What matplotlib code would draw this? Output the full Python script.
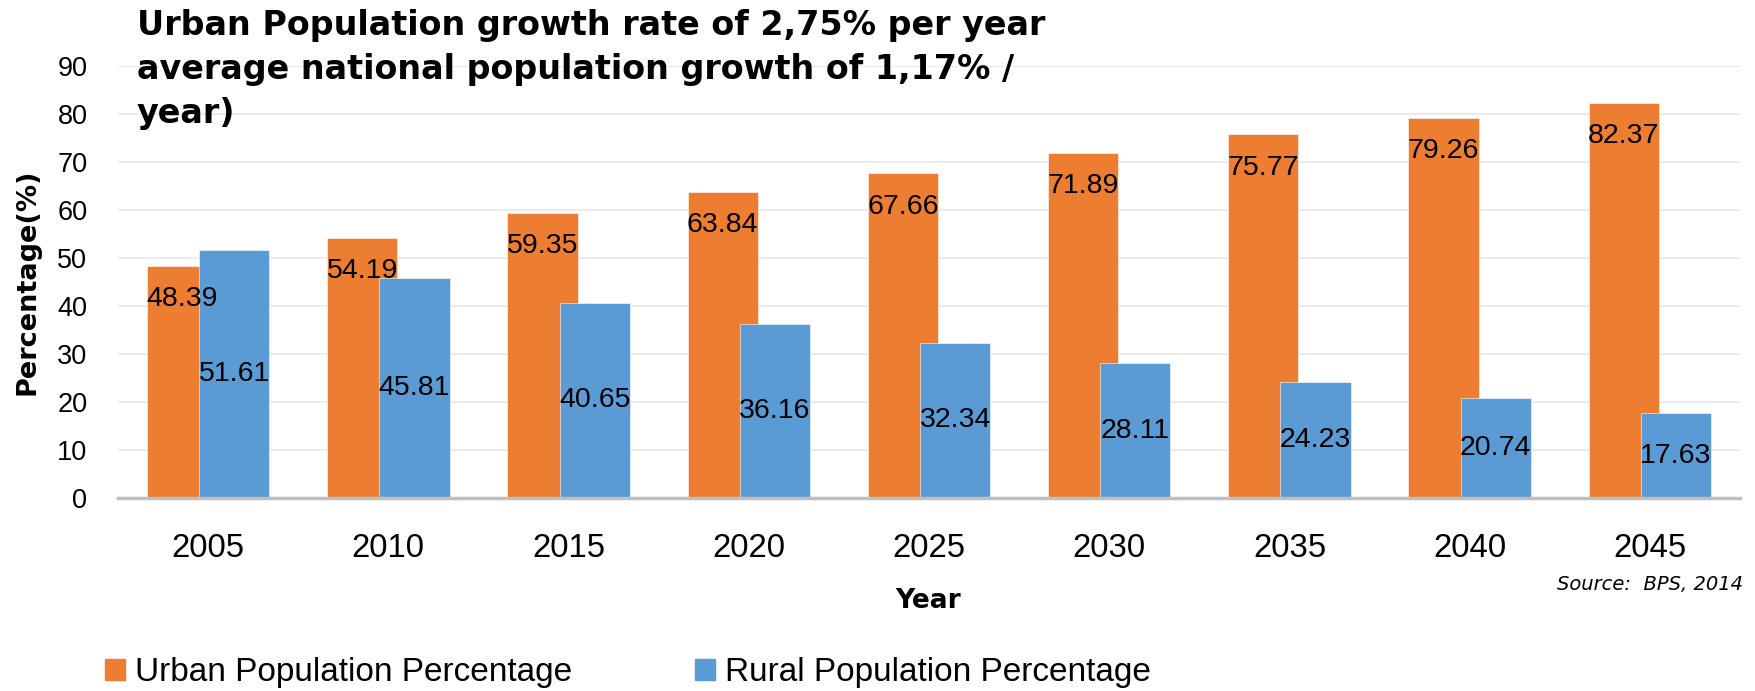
import numpy as np
import matplotlib
matplotlib.use('Agg')
import matplotlib.pyplot as plt
from matplotlib.patches import Patch

years = ['2005', '2010', '2015', '2020', '2025', '2030', '2035', '2040', '2045']
urban = [48.39, 54.19, 59.35, 63.84, 67.66, 71.89, 75.77, 79.26, 82.37]
rural = [51.61, 45.81, 40.65, 36.16, 32.34, 28.11, 24.23, 20.74, 17.63]
series_names = ['Urban Population Percentage', 'Rural Population Percentage']
title = ('Urban Population growth rate of 2,75% per year\n'
         'average national population growth of 1,17% /\n'
         'year)')
source = 'Source:  BPS, 2014'

ORANGE, BLUE = '#ED7D31', '#5B9BD5'
W, H = 1756, 691
plt.rcParams['font.family'] = ['Liberation Sans', 'DejaVu Sans']

fig = plt.figure(figsize=(W / 100, H / 100), dpi=100)
ax = fig.add_axes([118 / W, 1 - 498 / H, (1740 - 118) / W, (498 - 66) / H])

x = np.arange(len(years))
off, bw = 0.145, 0.39
ax.bar(x - off, urban, bw, color=ORANGE, zorder=2, edgecolor='white', linewidth=0.4)
ax.bar(x + off, rural, bw, color=BLUE, zorder=3, edgecolor='white', linewidth=0.4)

for xi, u, r in zip(x, urban, rural):
    ax.annotate(f'{u:.2f}', (xi - off, u), xytext=(0, -24), textcoords='offset points',
                ha='center', va='center', fontsize=20.5, color='black', zorder=5)
    ax.annotate(f'{r:.2f}', (xi + off, r / 2), ha='center', va='center',
                fontsize=20.5, color='black', zorder=5)

ax.set_xlim(-0.5, 8.5)
ax.set_ylim(0, 90)
ax.set_yticks(range(0, 91, 10))
ax.set_xticks(x)
ax.set_xticklabels(years)
ax.tick_params(axis='x', length=0, pad=25, labelsize=23.7)
ax.tick_params(axis='y', length=0, pad=22, labelsize=19.5)
ax.grid(axis='y', color='#EBEBEB', linewidth=1.5, zorder=0)
ax.set_axisbelow(True)
for s in ['top', 'right', 'left']:
    ax.spines[s].set_visible(False)
ax.spines['bottom'].set_color('#BFBFBF')
ax.spines['bottom'].set_linewidth(2.5)
ax.spines['bottom'].set_zorder(4)

fig.text(137 / W, 1 - 9 / H, title, ha='left', va='top', fontsize=24,
         fontweight='bold', family='DejaVu Sans', linespacing=1.42)
fig.text(28 / W, 1 - 282 / H, 'Percentage(%)', rotation=90, ha='center', va='center',
         fontsize=19.5, fontweight='bold', family='DejaVu Sans')
fig.text(928 / W, 1 - 601 / H, 'Year', ha='center', va='center',
         fontsize=19, fontweight='bold', family='DejaVu Sans')
fig.text(1743 / W, 1 - 584 / H, source, ha='right', va='center', fontsize=14,
         style='italic', family='DejaVu Sans')

handles = [Patch(color=ORANGE), Patch(color=BLUE)]
fig.legend(handles, series_names, loc='center left', bbox_to_anchor=(105 / W, 1 - 673 / H),
           ncol=2, frameon=False, fontsize=24, borderpad=0, borderaxespad=0,
           handlelength=0.6, handleheight=0.6, handletextpad=0.3, columnspacing=3.7)

fig.savefig('out.png', dpi=100)
